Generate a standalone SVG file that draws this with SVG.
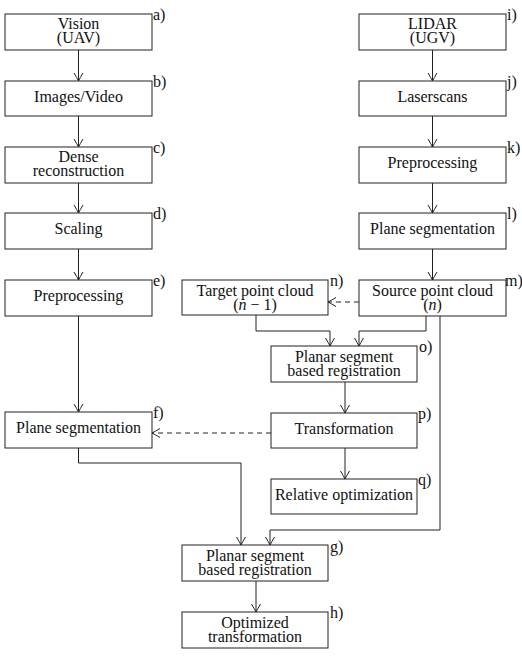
<svg xmlns="http://www.w3.org/2000/svg" width="522" height="663" viewBox="0 0 522 663">
<style>
.box{fill:#fff;stroke:#222;stroke-width:1}
.t{text-anchor:middle}
.c{fill:none;stroke:#222;stroke-width:1}
.d{stroke-dasharray:5,4}
</style>
<defs>
<marker id="ah" markerUnits="userSpaceOnUse" markerWidth="12" markerHeight="12" viewBox="-10 -6 12 12" refX="0" refY="0" orient="auto">
<path d="M-8,-4.5 Q-3,-1.5 0,0 Q-3,1.5 -8,4.5" fill="none" stroke="#222" stroke-width="1"/>
</marker>
</defs>
<rect width="522" height="663" fill="#fff"/>
<g id="connectors">
<path class="c" d="M78.5,50 V81" marker-end="url(#ah)"/>
<path class="c" d="M78.5,116 V147" marker-end="url(#ah)"/>
<path class="c" d="M78.5,183 V213" marker-end="url(#ah)"/>
<path class="c" d="M78.5,249 V280" marker-end="url(#ah)"/>
<path class="c" d="M78.5,316 V412" marker-end="url(#ah)"/>
<path class="c" d="M78.5,448 V463 H241 V545" marker-end="url(#ah)"/>
<path class="c" d="M432.5,50 V81" marker-end="url(#ah)"/>
<path class="c" d="M432.5,116 V147" marker-end="url(#ah)"/>
<path class="c" d="M432.5,183 V213" marker-end="url(#ah)"/>
<path class="c" d="M432.5,249 V280" marker-end="url(#ah)"/>
<path class="c d" d="M359,302 H328" marker-end="url(#ah)"/>
<path class="c" d="M256,315 V331 H330 V346" marker-end="url(#ah)"/>
<path class="c" d="M426,316 V331 H359 V346" marker-end="url(#ah)"/>
<path class="c" d="M440,316 V530 H270 V545" marker-end="url(#ah)"/>
<path class="c" d="M345,382 V413" marker-end="url(#ah)"/>
<path class="c" d="M345,448 V479" marker-end="url(#ah)"/>
<path class="c d" d="M271,433 H152" marker-end="url(#ah)"/>
<path class="c" d="M256,581 V612" marker-end="url(#ah)"/>
</g>
<g font-family="'Liberation Serif', 'Times New Roman', Times, 'DejaVu Serif', serif" font-size="16" fill="#111">
<g id="a"><rect class="box" x="5" y="14" width="147" height="36"/><text class="t" x="78.5" y="28.5">Vision</text><text class="t" x="78.5" y="42.5">(UAV)</text><text x="153" y="20">a)</text></g>
<g id="b"><rect class="box" x="5" y="81" width="147" height="35"/><text class="t" x="78.5" y="102">Images/Video</text><text x="153" y="87">b)</text></g>
<g id="c"><rect class="box" x="5" y="147" width="147" height="36"/><text class="t" x="78.5" y="161.5">Dense</text><text class="t" x="78.5" y="175.5">reconstruction</text><text x="153" y="153">c)</text></g>
<g id="d"><rect class="box" x="5" y="213" width="147" height="36"/><text class="t" x="78.5" y="234">Scaling</text><text x="153" y="219">d)</text></g>
<g id="e"><rect class="box" x="5" y="280" width="147" height="36"/><text class="t" x="78.5" y="301">Preprocessing</text><text x="153" y="286">e)</text></g>
<g id="f"><rect class="box" x="5" y="412" width="147" height="36"/><text class="t" x="78.5" y="433">Plane segmentation</text><text x="153" y="418">f)</text></g>
<g id="i"><rect class="box" x="359" y="14" width="147" height="36"/><text class="t" x="432.5" y="28.5">LIDAR</text><text class="t" x="432.5" y="42.5">(UGV)</text><text x="507" y="20">i)</text></g>
<g id="j"><rect class="box" x="359" y="81" width="147" height="35"/><text class="t" x="432.5" y="102">Laserscans</text><text x="507" y="87">j)</text></g>
<g id="k"><rect class="box" x="359" y="147" width="147" height="36"/><text class="t" x="432.5" y="168">Preprocessing</text><text x="507" y="153">k)</text></g>
<g id="l"><rect class="box" x="359" y="213" width="147" height="36"/><text class="t" x="432.5" y="234">Plane segmentation</text><text x="507" y="219">l)</text></g>
<g id="m"><rect class="box" x="359" y="280" width="147" height="36"/><text class="t" x="432.5" y="295.5">Source point cloud</text><text class="t" x="432.5" y="309.5">(<tspan font-style="italic">n</tspan>)</text><text x="505" y="286">m)</text></g>
<g id="n"><rect class="box" x="182" y="280" width="146" height="35"/><text class="t" x="255" y="295.5">Target point cloud</text><text class="t" x="255" y="309.5">(<tspan font-style="italic">n</tspan> − 1)</text><text x="330" y="286">n)</text></g>
<g id="o"><rect class="box" x="271" y="346" width="146" height="36"/><text class="t" x="344" y="361.5">Planar segment</text><text class="t" x="344" y="375.5">based registration</text><text x="419" y="352">o)</text></g>
<g id="p"><rect class="box" x="271" y="413" width="146" height="35"/><text class="t" x="344" y="434">Transformation</text><text x="418" y="419">p)</text></g>
<g id="q"><rect class="box" x="271" y="479" width="146" height="35"/><text class="t" x="344" y="500">Relative optimization</text><text x="418" y="485">q)</text></g>
<g id="g"><rect class="box" x="182" y="545" width="146" height="36"/><text class="t" x="255" y="560.5">Planar segment</text><text class="t" x="255" y="574.5">based registration</text><text x="330" y="552">g)</text></g>
<g id="h"><rect class="box" x="182" y="612" width="146" height="36"/><text class="t" x="255" y="627.5">Optimized</text><text class="t" x="255" y="641.5">transformation</text><text x="330" y="618">h)</text></g>
</g>
</svg>
